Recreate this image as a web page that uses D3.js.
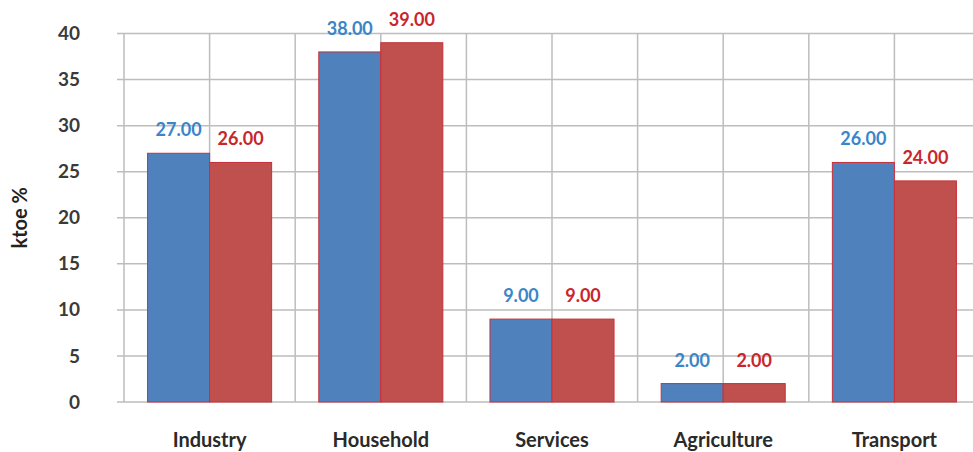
<!DOCTYPE html>
<html><head><meta charset="utf-8">
<script src="https://cdn.jsdelivr.net/npm/d3@7"></script>
<style>
html,body{margin:0;padding:0;background:#fff;}
svg{display:block;font-family:Lato,"Open Sans",sans-serif;}
</style></head>
<body>
<svg id="chart" width="973" height="452"></svg>
<script>
const categories = ["Industry","Household","Services","Agriculture","Transport"];
const series1 = [27,38,9,2,26];
const series2 = [26,39,9,2,24];
const yTicks = [0,5,10,15,20,25,30,35,40];
const yTitle = "ktoe %";

(function(){
const svg = d3.select("#chart");
const mL = 124, mR = 980, mT = 33.5, mB = 402;
const x = d3.scaleBand().domain(categories).range([mL, mR]).paddingInner(0).paddingOuter(0);
const y = d3.scaleLinear().domain([0,40]).range([mB, mT]);
const inner = d3.scaleBand().domain([0,1]).range([0, x.bandwidth()]).paddingInner(0).paddingOuter(0.38);
const grid = "#bdbdbd";

svg.append("g").selectAll("line").data(yTicks).join("line")
  .attr("x1", mL-7).attr("x2", mR).attr("y1", d=>y(d)).attr("y2", d=>y(d))
  .attr("stroke", grid).attr("stroke-width", 1.5);
const vx = [];
categories.forEach(c=>{ vx.push(x(c)); vx.push(x(c)+x.bandwidth()/2); });
vx.push(mR);
svg.append("g").selectAll("line").data(vx).join("line")
  .attr("x1", d=>d).attr("x2", d=>d).attr("y1", mT).attr("y2", mB)
  .attr("stroke", grid).attr("stroke-width", 1.5);

const yAxis = d3.axisLeft(y).tickValues(yTicks).tickSize(0).tickPadding(0);
const ya = svg.append("g").attr("transform", `translate(${mL-44},0)`).call(yAxis);
ya.select(".domain").remove();
ya.selectAll("text").attr("font-size", 19).attr("font-weight", "bold").attr("fill", "#3a3a3a")
  .attr("font-family", "Lato, sans-serif").attr("text-anchor","end");

const xAxis = d3.axisBottom(x).tickSize(0).tickPadding(0);
const xa = svg.append("g").attr("transform", `translate(0,${mB+31})`).call(xAxis);
xa.select(".domain").remove();
xa.selectAll("text").attr("font-size", 20).attr("font-weight", "bold").attr("fill", "#2a2a2a")
  .attr("font-family", "Lato, sans-serif");

svg.append("text").attr("transform", `translate(27,${(mT+mB)/2}) rotate(-90)`)
  .attr("text-anchor","middle").attr("font-size", 20).attr("font-weight","bold").attr("fill","#222")
  .text(yTitle);

const colors = ["#4f81bd","#c0504d"];
const labelColors = ["#3a85c8","#c8262c"];
const data = [];
categories.forEach((c,i)=>{ data.push({c, s:0, v:series1[i]}); data.push({c, s:1, v:series2[i]}); });

svg.append("g").selectAll("rect").data(data).join("rect")
  .attr("x", d=>x(d.c)+inner(d.s)).attr("width", inner.bandwidth())
  .attr("y", d=>y(d.v)).attr("height", d=>mB - y(d.v))
  .attr("fill", d=>colors[d.s]).attr("stroke", "#c8303a").attr("stroke-width", 1);

svg.append("g").selectAll("text").data(data).join("text")
  .attr("x", d=>x(d.c)+inner(d.s)+inner.bandwidth()/2)
  .attr("y", d=>y(d.v)-17)
  .attr("text-anchor","middle").attr("font-size", 18).attr("font-weight","bold")
  .attr("fill", d=>labelColors[d.s])
  .text(d=>d.v.toFixed(2));
})();
</script>
</body></html>
